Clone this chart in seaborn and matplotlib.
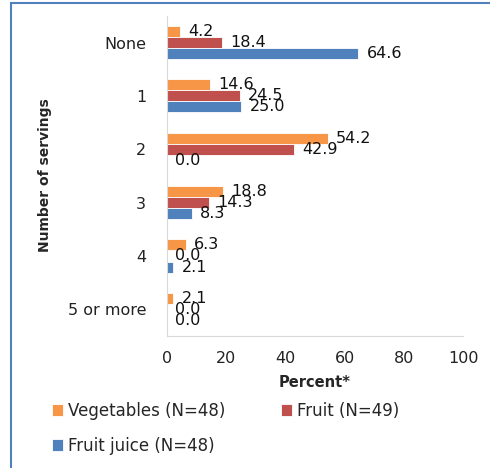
import matplotlib
matplotlib.use("Agg")
import matplotlib.pyplot as plt
import seaborn as sns
import pandas as pd
from matplotlib.patches import Rectangle

categories = ["None", "1", "2", "3", "4", "5 or more"]
vegetables = [4.2, 14.6, 54.2, 18.8, 6.3, 2.1]
fruit = [18.4, 24.5, 42.9, 14.3, 0.0, 0.0]
fruit_juice = [64.6, 25.0, 0.0, 8.3, 2.1, 0.0]
series_names = ["Vegetables (N=48)", "Fruit (N=49)", "Fruit juice (N=48)"]
colors = ["#F79646", "#C0504D", "#4F81BD"]
x_ticks = [0, 20, 40, 60, 80, 100]

rows = []
for name, vals in zip(series_names, [vegetables, fruit, fruit_juice]):
    for c, v in zip(categories, vals):
        rows.append({"servings": c, "percent": v, "series": name})
df = pd.DataFrame(rows)

sns.set_style("white")
plt.rcParams["font.family"] = ["DejaVu Sans"]

fig = plt.figure(figsize=(4.9, 4.68), dpi=100)
ax = fig.add_axes([0.341, 0.282, 0.604, 0.684])

sns.barplot(data=df, x="percent", y="servings", hue="series", order=categories,
            hue_order=series_names, palette=colors, saturation=1, orient="h",
            width=0.62, edgecolor="white", linewidth=0.6, ax=ax, legend=True,
            errorbar=None)

for cont in ax.containers:
    ax.bar_label(cont, fmt="%.1f", padding=6, fontsize=11.5, color="#111111")

ax.set_xlim(0, 100)
ax.set_ylim(5.5, -0.5)
ax.set_xticks(x_ticks)
ax.set_xticklabels([str(t) for t in x_ticks], fontsize=11.5, color="#222222")
ax.tick_params(axis="y", length=0, labelsize=11.5, pad=15, labelcolor="#222222")
ax.tick_params(axis="x", length=5, color="#D9D9D9", pad=6)
for s in ["top", "right"]:
    ax.spines[s].set_visible(False)
ax.spines["left"].set_color("#D9D9D9")
ax.spines["bottom"].set_color("#D9D9D9")
ax.set_xlabel("Percent*", fontsize=10.5, fontweight="bold", labelpad=6)
ax.set_ylabel("")
fig.text(0.092, 0.625, "Number of servings", rotation=90, fontsize=10,
         fontweight="bold", ha="center", va="center")

handles, labels = ax.get_legend_handles_labels()
ax.get_legend().remove()
order = [0, 2, 1]
fig.legend([handles[i] for i in order], [labels[i] for i in order],
           loc="upper left", bbox_to_anchor=(0.092, 0.155),
           ncol=2, frameon=False, fontsize=12, handlelength=0.7, handleheight=0.7,
           handletextpad=0.3, columnspacing=3.3, labelspacing=1.0, borderaxespad=0)

fig.patches.append(Rectangle((11/490, -0.1), 1.2, 1 - 3/468 + 0.1,
                             transform=fig.transFigure, fill=False,
                             edgecolor="#4F81BD", linewidth=1.5))

fig.savefig("out.png", dpi=100)
